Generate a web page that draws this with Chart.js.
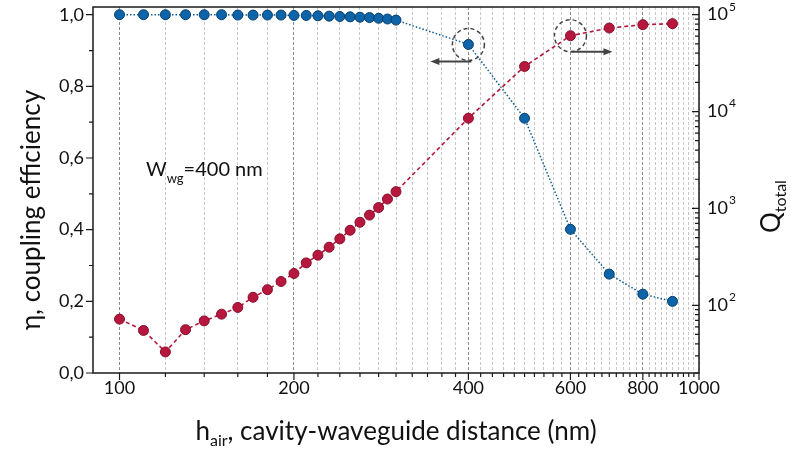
<!DOCTYPE html>
<html>
<head>
<meta charset="utf-8">
<script src="https://cdn.jsdelivr.net/npm/chart.js@4.4.0/dist/chart.umd.min.js"></script>
<style>
  html, body { margin: 0; padding: 0; background: #fff; }
  #wrap { width: 794px; height: 453px; position: relative; }
</style>
</head>
<body>
<div id="wrap"><canvas id="qChart"></canvas></div>
<script>
// cavity-waveguide distance h_air (nm)
const hAir = [100, 110, 120, 130, 140, 150, 160, 170, 180, 190, 200, 210, 220, 230, 240, 250, 260, 270, 280, 290, 300,
              400, 500, 600, 700, 800, 900];
// coupling efficiency (left axis)
const eta = [1.000, 1.000, 1.000, 1.000, 1.000, 1.000, 0.999, 0.999, 0.999, 0.999, 0.998, 0.998, 0.997, 0.996, 0.995,
             0.994, 0.993, 0.992, 0.990, 0.988, 0.985, 0.917, 0.711, 0.401, 0.276, 0.220, 0.200];
// total Q (right axis, log)
const qTotal = [72, 55, 33, 56, 69, 81, 95, 121, 145, 176, 213, 274, 329, 398, 485, 595, 720, 853, 1020, 1250, 1490,
                8540, 29200, 60600, 72800, 78800, 80700];

// axis ticks
const xGrid = [];
for (let v = 100; v <= 1000; v += 20) xGrid.push(v);
const xTickLabels = [100, 200, 400, 600, 800, 1000];
const etaGrid = [0, 0.1, 0.2, 0.3, 0.4, 0.5, 0.6, 0.7, 0.8, 0.9, 1.0];
const etaTickLabels = [0, 0.2, 0.4, 0.6, 0.8, 1.0];
const qGrid = [];
[10, 100, 1000, 10000].forEach(d => { for (let m = 1; m <= 9; m++) if (d * m >= 20) qGrid.push(d * m); });
qGrid.push(100000);
const qTickLabels = [100, 1000, 10000, 100000];

const FONT = 'Lato, "Open Sans", sans-serif';

function arrow(ctx, x1, y1, x2, y2) {
    const dir = Math.sign(x2 - x1);
    ctx.beginPath();
    ctx.moveTo(x1, y1);
    ctx.lineTo(x2 - dir * 6, y2);
    ctx.stroke();
    ctx.beginPath();
    ctx.moveTo(x2, y2);
    ctx.lineTo(x2 - dir * 9, y2 - 3.5);
    ctx.lineTo(x2 - dir * 9, y2 + 3.5);
    ctx.closePath();
    ctx.fill();
}

const decor = {
    id: 'decor',
    afterDraw(chart) {
        const { ctx, chartArea: a } = chart;
        const x = chart.scales.x, y = chart.scales.y, q = chart.scales.y2;
        ctx.save();

        // frame
        ctx.strokeStyle = '#1a1a1a';
        ctx.lineWidth = 1.5;
        ctx.strokeRect(a.left, a.top, a.right - a.left, a.bottom - a.top);

        // tick marks
        ctx.lineWidth = 1.2;
        ctx.beginPath();
        xGrid.forEach(v => {
            const px = x.getPixelForValue(v);
            const len = xTickLabels.includes(v) ? 7 : 4;
            ctx.moveTo(px, a.bottom);
            ctx.lineTo(px, a.bottom + len);
        });
        etaGrid.forEach(v => {
            const py = y.getPixelForValue(v);
            const len = etaTickLabels.includes(v) ? 7 : 4;
            ctx.moveTo(a.left, py);
            ctx.lineTo(a.left - len, py);
        });
        qGrid.forEach(v => {
            const py = q.getPixelForValue(v);
            const len = qTickLabels.includes(v) ? 7 : 4;
            ctx.moveTo(a.right, py);
            ctx.lineTo(a.right - len, py);
        });
        ctx.stroke();

        // right axis labels 10^n
        ctx.fillStyle = '#111';
        ctx.textBaseline = 'middle';
        ctx.textAlign = 'left';
        qTickLabels.forEach(v => {
            const py = q.getPixelForValue(v);
            ctx.font = '18px ' + FONT;
            ctx.fillText('10', a.right + 8, py);
            const w = ctx.measureText('10').width;
            ctx.font = '12px ' + FONT;
            ctx.fillText(String(Math.round(Math.log10(v))), a.right + 9 + w, py - 8);
        });

        // left title
        ctx.textBaseline = 'alphabetic';
        ctx.save();
        ctx.translate(40, 210);
        ctx.rotate(-Math.PI / 2);
        ctx.textAlign = 'center';
        ctx.font = '26px ' + FONT;
        ctx.fillText('η, coupling efficiency', 0, 0);
        ctx.restore();

        // bottom title with subscript
        const parts = [['h', 26, 0], ['air', 16, 6], [', cavity-waveguide distance (nm)', 26, 0]];
        let total = 0;
        parts.forEach(p => { ctx.font = p[1] + 'px ' + FONT; total += ctx.measureText(p[0]).width; });
        let cx = (a.left + a.right) / 2 - total / 2;
        parts.forEach(p => {
            ctx.font = p[1] + 'px ' + FONT;
            ctx.fillText(p[0], cx, 440 + p[2]);
            cx += ctx.measureText(p[0]).width;
        });

        // right title Q_total
        ctx.save();
        ctx.translate(780, 233);
        ctx.rotate(-Math.PI / 2);
        ctx.font = '26px ' + FONT;
        ctx.fillText('Q', 0, 0);
        const qw = ctx.measureText('Q').width;
        ctx.font = '16px ' + FONT;
        ctx.fillText('total', qw, 6);
        ctx.restore();

        // W_wg label
        ctx.font = '20px ' + FONT;
        ctx.fillText('W', 146, 176);
        let wx = 146 + ctx.measureText('W').width;
        ctx.font = '13px ' + FONT;
        ctx.fillText('wg', wx, 183);
        wx += ctx.measureText('wg').width;
        ctx.font = '20px ' + FONT;
        ctx.fillText('=400 nm', wx, 176);

        // highlight circles and direction arrows
        ctx.strokeStyle = '#444';
        ctx.fillStyle = '#444';
        ctx.lineWidth = 1.5;
        const bx = x.getPixelForValue(400), by = y.getPixelForValue(0.917);
        const rx = x.getPixelForValue(600), ry = q.getPixelForValue(60600);
        ctx.setLineDash([4, 3]);
        ctx.beginPath(); ctx.arc(bx, by, 16, 0, Math.PI * 2); ctx.stroke();
        ctx.beginPath(); ctx.arc(rx, ry, 16, 0, Math.PI * 2); ctx.stroke();
        ctx.setLineDash([]);
        ctx.lineWidth = 2;
        arrow(ctx, bx + 3, by + 17, bx - 38, by + 17);
        arrow(ctx, rx + 1, ry + 16, rx + 42, ry + 16);

        ctx.restore();
    }
};

const ctx = document.getElementById('qChart').getContext('2d');
const qChart = new Chart(ctx, {
    type: 'line',
    data: {
        datasets: [{
            label: 'eta',
            yAxisID: 'y',
            data: hAir.map((h, i) => ({ x: h, y: eta[i] })),
            borderColor: '#0d5a94',
            borderWidth: 1.5,
            borderDash: [1.5, 2],
            pointRadius: 5,
            pointBackgroundColor: '#0e64a8',
            pointBorderColor: '#083f6c',
            pointBorderWidth: 1,
            tension: 0,
            order: 2
        }, {
            label: 'Q',
            yAxisID: 'y2',
            data: hAir.map((h, i) => ({ x: h, y: qTotal[i] })),
            borderColor: '#b5183c',
            borderWidth: 1.6,
            borderDash: [4, 3],
            pointRadius: 5,
            pointBackgroundColor: '#b8173d',
            pointBorderColor: '#85102c',
            pointBorderWidth: 1,
            tension: 0,
            order: 1
        }]
    },
    options: {
        responsive: true,
        maintainAspectRatio: false,
        animation: false,
        clip: false,
        layout: { padding: { top: 7, left: 0, right: 0, bottom: 0 } },
        plugins: { legend: { display: false }, tooltip: { enabled: false } },
        scales: {
            x: {
                type: 'logarithmic',
                min: 90,
                max: 1000,
                afterBuildTicks: s => { s.ticks = xGrid.map(v => ({ value: v })); },
                afterFit: s => { s.height = 80; s.paddingLeft = 0; s.paddingRight = 0; },
                border: { display: false, dash: [3, 2] },
                grid: {
                    drawTicks: false,
                    lineWidth: 1,
                    color: c => (c.tick && [100, 200, 400, 600, 800].includes(c.tick.value)) ? '#8a8a8a' : '#c8c8c8'
                },
                ticks: {
                    autoSkip: false,
                    maxRotation: 0,
                    padding: 4,
                    color: '#111',
                    font: { family: FONT, size: 18 },
                    callback: v => xTickLabels.includes(v) ? String(v) : ''
                }
            },
            y: {
                position: 'left',
                min: 0,
                max: 1.0215,
                afterBuildTicks: s => { s.ticks = etaGrid.map(v => ({ value: v })); },
                afterFit: s => { s.width = 93; s.paddingTop = 0; s.paddingBottom = 0; },
                border: { display: false },
                grid: { display: false, drawTicks: false },
                ticks: {
                    autoSkip: false,
                    padding: 9,
                    color: '#111',
                    font: { family: FONT, size: 18 },
                    callback: v => etaTickLabels.includes(v) ? v.toFixed(1).replace('.', ',') : ''
                }
            },
            y2: {
                type: 'logarithmic',
                position: 'right',
                min: 20,
                max: 120000,
                afterFit: s => { s.width = 95; s.paddingTop = 0; s.paddingBottom = 0; },
                border: { display: false },
                grid: { display: false, drawTicks: false },
                ticks: { display: false }
            }
        }
    },
    plugins: [decor]
});
</script>
</body>
</html>
